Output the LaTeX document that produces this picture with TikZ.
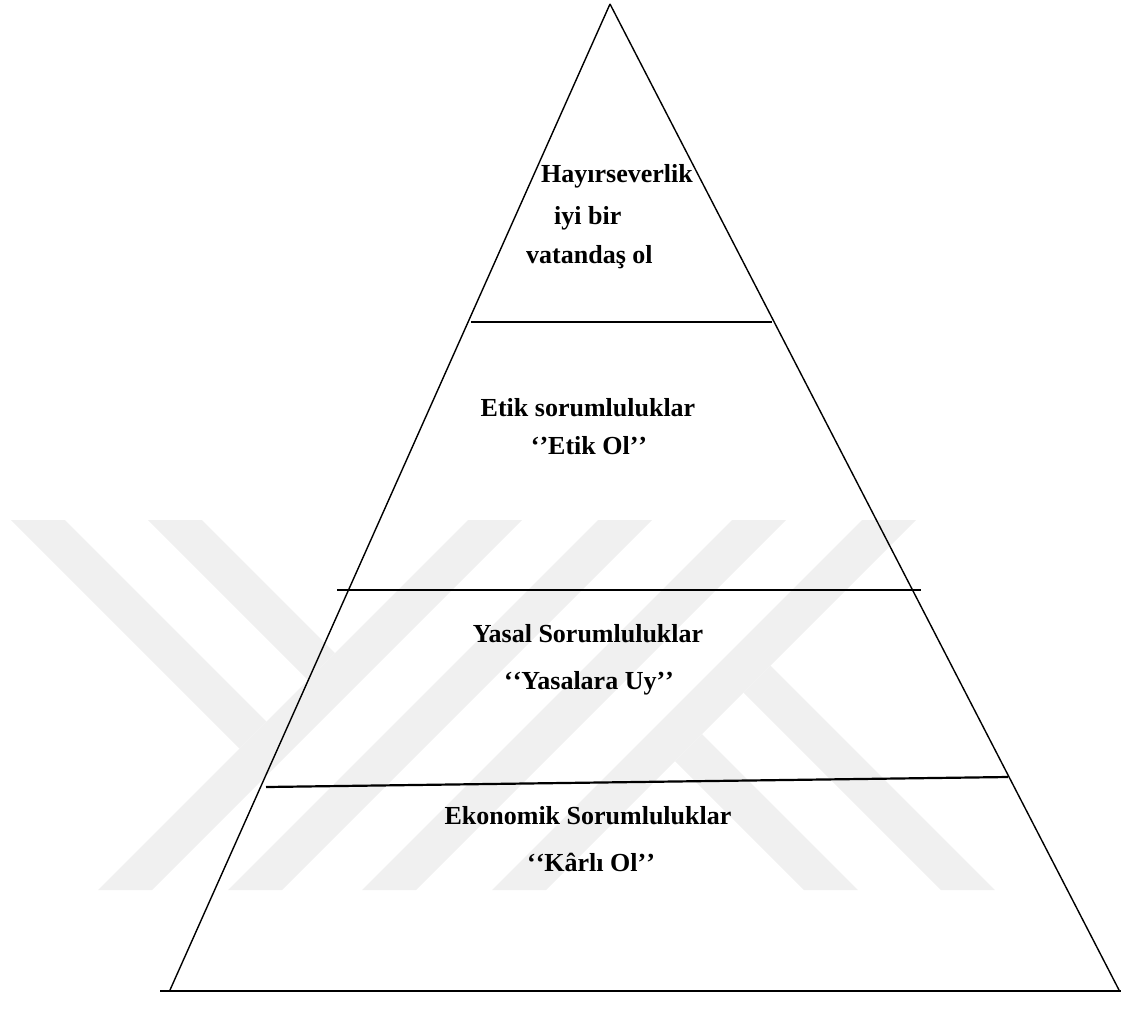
\documentclass[tikz,border=0pt]{standalone}
\usepackage{fontspec}
\setmainfont{Liberation Serif}
\usetikzlibrary{positioning}

\begin{document}
\begin{tikzpicture}[x=1pt, y=-1pt,
  edge/.style={line width=1.4pt, black},
  sep/.style={line width=2.2pt, black},
  bottomline/.style={line width=2.6pt, black},
  wm/.style={fill=black!6},
  lbl/.style={font=\fontsize{26}{30}\selectfont\bfseries, inner sep=0pt, anchor=base},
]
\useasboundingbox (0,0) rectangle (1129,1018);

%% Watermark (background)
\fill[wm] (11,520) -- (65,520) -- (266.5,721.5) -- (239.5,748.5) -- cycle;
\fill[wm] (148,520) -- (202,520) -- (335,653) -- (308,680) -- cycle;
\fill[wm] (468,520) -- (522,520) -- (152,890) -- (98,890) -- cycle;
\fill[wm] (598,520) -- (652,520) -- (282,890) -- (228,890) -- cycle;
\fill[wm] (732,520) -- (786,520) -- (416,890) -- (362,890) -- cycle;
\fill[wm] (862,520) -- (916,520) -- (546,890) -- (492,890) -- cycle;
\fill[wm] (675,761) -- (702,734) -- (858,890) -- (804,890) -- cycle;
\fill[wm] (743.5,692.5) -- (770.5,665.5) -- (995,890) -- (941,890) -- cycle;

%% Pyramid
\coordinate (apex) at (610,4);
\coordinate (bl)   at (170,990);
\coordinate (br)   at (1119,990);
\coordinate (b1)   at (160,991);
\coordinate (b2)   at (1121,991);
\draw[edge] (apex) -- (bl);
\draw[edge] (apex) -- (br);
\draw[bottomline] (b1) -- (b2);

%% Level separators
\coordinate (s1a) at (471,322);
\coordinate (s1b) at (772,322);
\coordinate (s2a) at (337,590);
\coordinate (s2b) at (921,590);
\coordinate (s3a) at (266,787);
\coordinate (s3b) at (1008,777);
\draw[sep] (s1a) -- (s1b);
\draw[sep] (s2a) -- (s2b);
\draw[sep] (s3a) -- (s3b);

%% Level 4
\node[lbl, anchor=base west] (hayir) at (541,182) {Hayırseverlik};
\node[lbl, anchor=base west] (iyi)   at (554,224) {iyi bir};
\node[lbl, anchor=base west] (vatan) at (526,263) {vatandaş ol};

%% Level 3
\node[lbl] (etik)  at (588,416) {Etik sorumluluklar};
\node[lbl] (etikq) at (589,454) {‘\kern0pt’Etik Ol’\kern0pt’};

%% Level 2
\node[lbl] (yasal)  at (588,642) {Yasal Sorumluluklar};
\node[lbl] (yasalq) at (589,689) {‘\kern0pt‘Yasalara Uy’\kern0pt’};

%% Level 1
\node[lbl] (eko)  at (588,824) {Ekonomik Sorumluluklar};
\node[lbl] (ekoq) at (591,871) {‘\kern0pt‘Kârlı Ol’\kern0pt’};

\end{tikzpicture}
\end{document}
